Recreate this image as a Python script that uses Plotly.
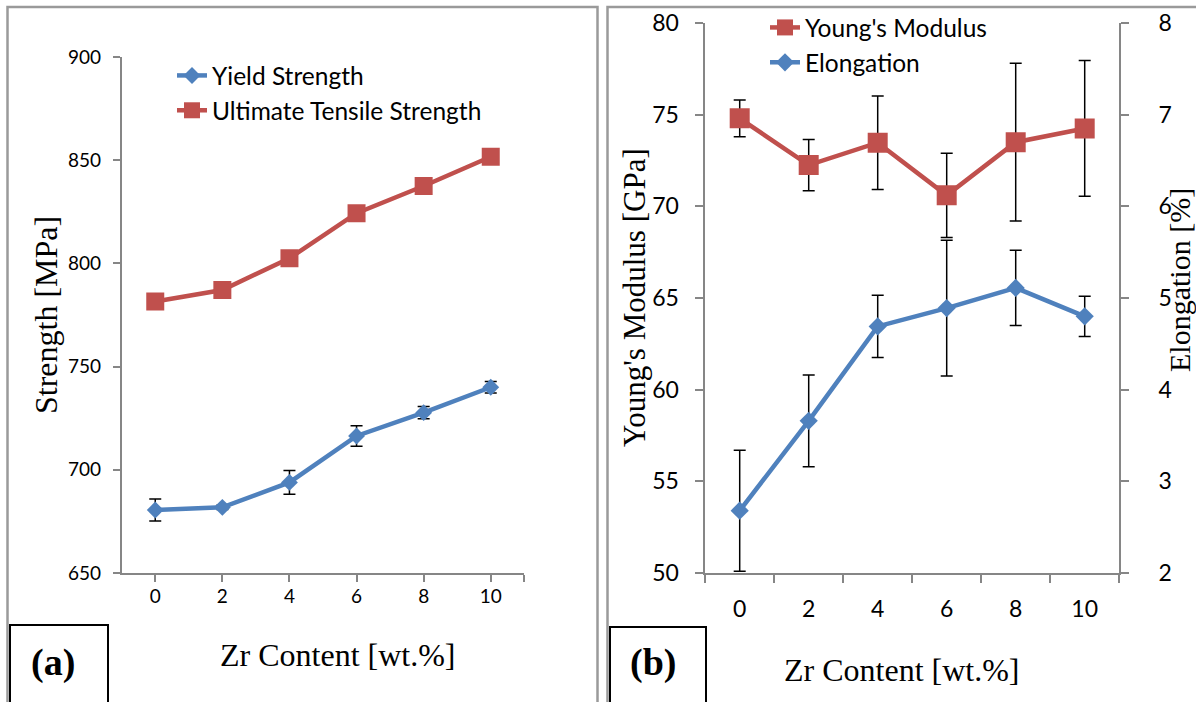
import plotly.graph_objects as go

W, H = 1196, 702

# ---------------- data ----------------
zr = [0, 2, 4, 6, 8, 10]
yield_strength = [680.5, 681.8, 693.9, 716.4, 727.7, 740.0]
yield_err = [5.3, 1.0, 5.8, 5.0, 3.0, 2.8]
uts = [781.5, 787.1, 802.5, 824.3, 837.5, 851.7]

youngs = [74.8, 72.25, 73.47, 70.6, 73.5, 74.25]
youngs_err = [1.0, 1.4, 2.55, 2.3, 4.3, 3.7]
elong = [2.68, 3.66, 4.69, 4.89, 5.11, 4.80]
elong_err = [0.66, 0.50, 0.34, 0.74, 0.41, 0.22]

BLUE = "#4F81BD"
RED = "#C0504D"
GRAY = "#868686"
SANS = "Lato"
SERIF = "Liberation Serif"


def px_x(p):
    return p / W


def px_y(p):
    return 1 - p / H


fig = go.Figure()

# ---------- panel (a) ----------
fig.add_trace(go.Scatter(
    x=zr, y=yield_strength, name="Yield Strength", mode="lines+markers",
    line=dict(color=BLUE, width=4.5),
    marker=dict(symbol="diamond", size=13, color=BLUE),
    error_y=dict(type="data", array=yield_err, color="black", thickness=1.5, width=6),
    xaxis="x", yaxis="y", legend="legend", legendrank=1))
fig.add_trace(go.Scatter(
    x=zr, y=uts, name="Ultimate Tensile Strength", mode="lines+markers",
    line=dict(color=RED, width=4.5),
    marker=dict(symbol="square", size=18, color=RED),
    xaxis="x", yaxis="y", legend="legend", legendrank=2))

# ---------- panel (b) ----------
fig.add_trace(go.Scatter(
    x=zr, y=youngs, name="Young's Modulus", mode="lines+markers",
    line=dict(color=RED, width=4.5),
    marker=dict(symbol="square", size=20, color=RED),
    error_y=dict(type="data", array=youngs_err, color="black", thickness=1.5, width=6),
    xaxis="x2", yaxis="y2", legend="legend2", legendrank=1))
fig.add_trace(go.Scatter(
    x=zr, y=elong, name="Elongation", mode="lines+markers",
    line=dict(color=BLUE, width=4.5),
    marker=dict(symbol="diamond", size=14, color=BLUE),
    error_y=dict(type="data", array=elong_err, color="black", thickness=1.5, width=6),
    xaxis="x2", yaxis="y3", legend="legend2", legendrank=2))

axis_common = dict(showgrid=False, zeroline=False, showline=True, linecolor=GRAY,
                   linewidth=1.5, tickcolor=GRAY, tickwidth=1.5, ticks="outside",
                   automargin=False)

left_x_dom = [px_x(121.7), px_x(524.3)]
right_x_dom = [px_x(705.2), px_x(1119.2)]

fig.update_layout(
    width=W, height=H, autosize=False,
    margin=dict(l=0, r=0, t=0, b=0, pad=0),
    paper_bgcolor="white", plot_bgcolor="white",
    showlegend=True,
    xaxis=dict(domain=left_x_dom, anchor="y", range=[-1, 11],
               tickmode="array", tickvals=zr + [11],
               ticktext=[str(v) for v in zr] + [""],
               ticklen=7, ticklabelstandoff=-2,
               tickfont=dict(family=SANS, size=19, color="black"),
               **axis_common),
    yaxis=dict(domain=[px_y(573), px_y(57)], anchor="x", range=[650, 900],
               dtick=50, ticklen=7, ticklabelstandoff=8,
               tickfont=dict(family=SANS, size=19, color="black"),
               **axis_common),
    xaxis2=dict(domain=right_x_dom, anchor="y2", range=[-1, 11],
                tickmode="array", tickvals=zr,
                ticktext=[str(v) for v in zr],
                showgrid=False, zeroline=False, showline=True, linecolor=GRAY,
                linewidth=1.5, ticks="", ticklabelstandoff=15, automargin=False,
                minor=dict(tickmode="array", tickvals=[-1, 1, 3, 5, 7, 9, 11],
                           ticks="outside", ticklen=8, tickcolor=GRAY, tickwidth=1.5,
                           showgrid=False),
                tickfont=dict(family=SANS, size=23, color="black")),
    yaxis2=dict(domain=[px_y(573), px_y(23)], anchor="x2", range=[50, 80],
                dtick=5, ticklen=8, ticklabelstandoff=12,
                tickfont=dict(family=SANS, size=23, color="black"),
                **axis_common),
    yaxis3=dict(overlaying="y2", side="right", anchor="x2", range=[2, 8],
                dtick=1, ticklen=8, ticklabelstandoff=25,
                tickfont=dict(family=SANS, size=23, color="black"),
                **axis_common),
    legend=dict(x=px_x(172), y=px_y(53), xanchor="left", yanchor="top",
                bgcolor="rgba(0,0,0,0)", borderwidth=0,
                font=dict(family=SANS, size=24.5, color="black"),
                traceorder="normal", tracegroupgap=0),
    legend2=dict(x=px_x(765), y=px_y(5), xanchor="left", yanchor="top",
                 bgcolor="rgba(0,0,0,0)", borderwidth=0,
                 font=dict(family=SANS, size=24.5, color="black"),
                 traceorder="normal", tracegroupgap=0),
)

# axis titles and panel labels
annotations = [
    dict(text="Strength [MPa]", x=px_x(46), y=px_y(315), textangle=-90,
         font=dict(family=SERIF, size=32, color="black")),
    dict(text="Zr Content [wt.%]", x=px_x(338), y=px_y(655),
         font=dict(family=SERIF, size=32, color="black")),
    dict(text="Young's Modulus [GPa]", x=px_x(634), y=px_y(298), textangle=-90,
         font=dict(family=SERIF, size=31, color="black")),
    dict(text="Elongation [%]", x=px_x(1179), y=px_y(280), textangle=-90,
         font=dict(family=SERIF, size=30, color="black")),
    dict(text="Zr Content [wt.%]", x=px_x(902), y=px_y(670),
         font=dict(family=SERIF, size=32, color="black")),
    dict(text="<b>(a)</b>", x=px_x(53), y=px_y(662), font=dict(family=SERIF, size=38, color="black")),
    dict(text="<b>(b)</b>", x=px_x(653), y=px_y(662), font=dict(family=SERIF, size=38, color="black")),
]
for a in annotations:
    a.update(xref="paper", yref="paper", showarrow=False, xanchor="center", yanchor="middle")
fig.update_layout(annotations=annotations)

# panel frames and label boxes
shapes = [
    dict(type="rect", x0=px_x(7.5), x1=px_x(597.5), y0=px_y(720), y1=px_y(7),
         line=dict(color="#9a9a9a", width=2.5)),
    dict(type="rect", x0=px_x(607.5), x1=px_x(1220), y0=px_y(720), y1=px_y(7),
         line=dict(color="#9a9a9a", width=2.5)),
    dict(type="rect", x0=px_x(10), x1=px_x(108), y0=px_y(720), y1=px_y(625),
         line=dict(color="black", width=2)),
    dict(type="rect", x0=px_x(610), x1=px_x(706), y0=px_y(720), y1=px_y(627),
         line=dict(color="black", width=2)),
]
for s in shapes:
    s.update(xref="paper", yref="paper", layer="above")
fig.update_layout(shapes=shapes)

fig.write_html("out.html")
